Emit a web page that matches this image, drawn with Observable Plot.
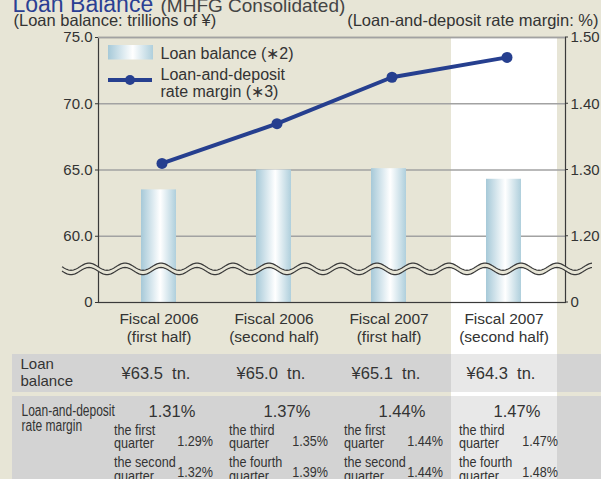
<!DOCTYPE html>
<html><head><meta charset="utf-8">
<script src="https://cdn.jsdelivr.net/npm/d3@7"></script>
<script src="https://cdn.jsdelivr.net/npm/@observablehq/plot@0.6"></script>
<style>
html,body{margin:0;padding:0;background:#e7e5d6;}
#wrap{position:relative;width:601px;height:479px;overflow:hidden;background:#e7e5d6;}
#wrap > div{position:absolute;}
#wrap svg{position:absolute;left:0;top:0;}
</style></head><body><div id="wrap"></div>
<script>
// ---- data ----
const categories = ["Fiscal 2006\n(first half)", "Fiscal 2006\n(second half)", "Fiscal 2007\n(first half)", "Fiscal 2007\n(second half)"];
const loanBalance = [63.5, 65.0, 65.1, 64.3];
const rateMargin = [1.31, 1.37, 1.44, 1.47];
const leftTicks = [0, 60, 65, 70, 75];
const leftTickLabels = ["0", "60.0", "65.0", "70.0", "75.0"];
const rightTicks = [0, 1.20, 1.30, 1.40, 1.50];
const rightTickLabels = ["0", "1.20", "1.30", "1.40", "1.50"];
const balanceLabels = ["¥63.5  tn.", "¥65.0  tn.", "¥65.1  tn.", "¥64.3  tn."];
const marginLabels = ["1.31%", "1.37%", "1.44%", "1.47%"];
const quarterNamesA = ["the first", "the third", "the first", "the third"];
const quarterNamesB = ["the second", "the fourth", "the second", "the fourth"];
const quarterValuesA = ["1.29%", "1.35%", "1.44%", "1.47%"];
const quarterValuesB = ["1.32%", "1.39%", "1.44%", "1.48%"];
const highlighted = categories[3];
const titleText = "Loan Balance";
const subtitleText = "(MHFG Consolidated)";
const leftUnit = "(Loan balance: trillions of ¥)";
const rightUnit = "(Loan-and-deposit rate margin: %)";
const legendBar = "Loan balance (\u22172)";
const legendLine = "Loan-and-deposit\nrate margin (\u22173)";
const rowLabel1 = "Loan\nbalance";
const rowLabel2 = "Loan-and-deposit\nrate margin";

// ---- styles ----
const FONT = '"Liberation Sans", Arial, Helvetica, sans-serif';
const INK = "#333333";
const BLUE = "#263f8f";
const GRID = "#a2a2a2";

// broken axis: 0–60 takes one unit of height, every 5 above 60 takes one unit
const brk = v => v <= 60 ? v / 60 : 1 + (v - 60) / 5;
// right axis (%) expressed in left-axis units: 1.20 ↔ 60, 1.50 ↔ 75
const toLeft = m => m === 0 ? 0 : 60 + (m - 1.2) * 50;
const leftTickPos = leftTicks.map(brk);

const rows = categories.map((cat, i) => ({
  cat, balance: loanBalance[i], margin: rateMargin[i],
  balanceLabel: balanceLabels[i], marginLabel: marginLabels[i],
  qa: quarterNamesA[i] + "\nquarter", qb: quarterNamesB[i] + "\nquarter",
  va: quarterValuesA[i], vb: quarterValuesB[i]
}));

const plot = Plot.plot({
  width: 601, height: 479,
  marginTop: 37, marginRight: 36, marginBottom: 177, marginLeft: 98,
  style: {background: "transparent", fontFamily: FONT, fontSize: "15px", color: INK, overflow: "hidden"},
  x: {type: "band", domain: categories, range: [99, 562], padding: 0, axis: null},
  y: {domain: [0, brk(75)], ticks: leftTickPos,
      tickFormat: d => leftTickLabels[leftTickPos.indexOf(d)], tickSize: 3, tickPadding: 3, label: null},
  marks: [
    Plot.ruleY([60, 65, 70].map(brk), {stroke: GRID, strokeWidth: 1.6}),
    Plot.barY(rows, {x: "cat", y1: 0, y2: d => brk(d.balance), fill: "url(#barGrad)", insetLeft: 40, insetRight: 40}),
    Plot.frame({stroke: "#3a3a3a", strokeWidth: 1.2}),
    Plot.ruleY([brk(75)], {stroke: GRID, strokeWidth: 1.6}),
    Plot.line(rows, {x: "cat", y: d => brk(toLeft(d.margin)), stroke: BLUE, strokeWidth: 4, dx: 3}),
    Plot.dot(rows, {x: "cat", y: d => brk(toLeft(d.margin)), r: 5.5, fill: BLUE, dx: 3}),
    // right axis labels
    Plot.text(rightTicks, {y: d => brk(toLeft(d)), text: (d, i) => rightTickLabels[i], frameAnchor: "right", textAnchor: "start", dx: 5, fill: INK, fontSize: 15}),
    // x labels
    Plot.text(rows, {x: "cat", text: "cat", frameAnchor: "bottom", lineAnchor: "bottom", dy: 39, lineHeight: 1.1, fontSize: 15.5, fill: INK}),
    // top texts
    Plot.text([titleText], {text: d => d, frameAnchor: "top-left", textAnchor: "start", lineAnchor: "bottom", dx: -86, dy: -26, fontSize: 23, fill: "#2b3f93"}),
    Plot.text([subtitleText], {text: d => d, frameAnchor: "top-left", textAnchor: "start", lineAnchor: "bottom", dx: 62, dy: -26, fontSize: 19, fill: "#444"}),
    Plot.text([leftUnit], {text: d => d, frameAnchor: "top-left", textAnchor: "start", lineAnchor: "bottom", dx: -85, dy: -11.5, fontSize: 16.5, fill: INK}),
    Plot.text([rightUnit], {text: d => d, frameAnchor: "top-right", textAnchor: "end", lineAnchor: "bottom", dx: 33, dy: -11.5, fontSize: 16.5, fill: INK}),
    // legend texts
    Plot.text([legendBar], {text: d => d, frameAnchor: "top-left", textAnchor: "start", lineAnchor: "bottom", dx: 62, dy: 21, fontSize: 16, fill: INK}),
    Plot.text([legendLine], {text: d => d, frameAnchor: "top-left", textAnchor: "start", lineAnchor: "bottom", dx: 62, dy: 59, lineHeight: 1.05, fontSize: 16, fill: INK}),
    // table
    Plot.text([rowLabel1], {text: d => d, frameAnchor: "bottom-left", textAnchor: "start", lineAnchor: "bottom", dx: -78, dy: 83, lineHeight: 1.11, fontSize: 15, fill: INK}),
    Plot.text(rows, {x: "cat", text: "balanceLabel", frameAnchor: "bottom", lineAnchor: "bottom", dx: -3, dy: 76, fontSize: 16.5, fill: INK}),
    Plot.text([rowLabel2], {text: d => d, frameAnchor: "bottom-left", textAnchor: "start", lineAnchor: "bottom", dx: -77, dy: 128, lineHeight: 0.92, fontSize: 16, fill: INK, ariaDescription: "narrow 0.75"}),
    Plot.text(rows, {x: "cat", text: "marginLabel", frameAnchor: "bottom", lineAnchor: "bottom", dx: 13, dy: 114, fontSize: 16.5, fill: INK}),
    Plot.text(rows, {x: "cat", text: "qa", frameAnchor: "bottom", textAnchor: "start", lineAnchor: "bottom", dx: -45, dy: 145.7, lineHeight: 0.93, fontSize: 14.5, fill: INK, ariaDescription: "narrow 0.87"}),
    Plot.text(rows, {x: "cat", text: "va", frameAnchor: "bottom", textAnchor: "end", lineAnchor: "bottom", dx: 54, dy: 143.3, fontSize: 14, fill: INK, ariaDescription: "narrow 0.9"}),
    Plot.text(rows, {x: "cat", text: "qb", frameAnchor: "bottom", textAnchor: "start", lineAnchor: "bottom", dx: -45, dy: 178, lineHeight: 0.93, fontSize: 14.5, fill: INK, ariaDescription: "narrow 0.87"}),
    Plot.text(rows, {x: "cat", text: "vb", frameAnchor: "bottom", textAnchor: "end", lineAnchor: "bottom", dx: 54, dy: 174, fontSize: 14, fill: INK, ariaDescription: "narrow 0.9"})
  ]
});

// ---- scales ----
const xd = plot.scale("x"), yd = plot.scale("y");
const xs = xd.apply ? (v => xd.apply(v)) : d3.scaleBand(xd.domain, xd.range).padding(0);
const ys = yd.apply ? (v => yd.apply(v)) : d3.scaleLinear(yd.domain, yd.range);
const bw = xd.bandwidth;
const frameR = 601 - 36;

// ---- condensed text (compress horizontally about each text's anchor) ----
plot.querySelectorAll('g[aria-description^="narrow"]').forEach(g => {
  const f = +g.getAttribute("aria-description").split(" ")[1];
  g.querySelectorAll("text").forEach(t => {
    const tr = t.getAttribute("transform") || "";
    const x = parseFloat(t.getAttribute("x")) || 0;
    t.setAttribute("transform", `${tr} translate(${x},0) scale(${f},1) translate(${-x},0)`);
  });
});

// ---- html backgrounds (behind svg) ----
const wrap = document.getElementById("wrap");
function box(l, t, w, h, bg) {
  const d = document.createElement("div");
  Object.assign(d.style, {left: l + "px", top: t + "px", width: w + "px", height: h + "px", background: bg});
  wrap.appendChild(d);
}
const hlInset = 4.5;
const hlL = xs(highlighted) + hlInset, hlW = bw - 2 * hlInset;
box(hlL, ys(brk(75)), hlW, 479 - ys(brk(75)), "#ffffff");
box(12, 354, 589, 38, "#d3d3d3");
box(12, 396, 589, 83, "#d3d3d3");
box(hlL, 354, hlW, 38, "#e8e8e8");
box(hlL, 396, hlW, 83, "#e8e8e8");
wrap.appendChild(plot);

// ---- svg decorations: gradient, legend swatches, break wave, right ticks ----
const ns = "http://www.w3.org/2000/svg";
function el(name, attrs, parent) {
  const e = document.createElementNS(ns, name);
  for (const k in attrs) e.setAttribute(k, attrs[k]);
  (parent || plot).appendChild(e);
  return e;
}
const defs = el("defs", {});
plot.insertBefore(defs, plot.firstChild);
const grad = el("linearGradient", {id: "barGrad", x1: "0", x2: "1", y1: "0", y2: "0"}, defs);
el("stop", {offset: "0", "stop-color": "#a6c9d8"}, grad);
el("stop", {offset: "0.55", "stop-color": "#ffffff"}, grad);
el("stop", {offset: "1", "stop-color": "#afcfdc"}, grad);

// legend swatches
el("rect", {x: 108, y: 45, width: 45, height: 14.5, fill: "url(#barGrad)"});
el("line", {x1: 108, x2: 152, y1: 80, y2: 80, stroke: BLUE, "stroke-width": 4});
el("circle", {cx: 130, cy: 80, r: 5, fill: BLUE});

// right axis ticks
for (const t of rightTicks) {
  const yy = ys(brk(toLeft(t)));
  el("line", {x1: frameR, x2: frameR + 3, y1: yy, y2: yy, stroke: "#3a3a3a", "stroke-width": 1});
}

// axis break wave
const waveY = ys(brk(30)), amp = 3.6, per = 36, gap = 2.2, wx0 = 62, wx1 = 592;
const upper = [], lower = [];
for (let x = wx0; x <= wx1; x += 1) {
  const s = amp * Math.sin(2 * Math.PI * (x - wx0) / per);
  upper.push([x, waveY - gap + s]);
  lower.push([x, waveY + gap + s]);
}
const pstr = pts => pts.map((p, i) => (i ? "L" : "M") + p[0].toFixed(1) + "," + p[1].toFixed(2)).join("");
el("path", {d: pstr(upper) + pstr(lower.slice().reverse()).replace(/^M/, "L") + "Z", fill: "#e7e5d6", stroke: "none"});
el("path", {d: pstr(upper), fill: "none", stroke: "#3a3a3a", "stroke-width": 1.2});
el("path", {d: pstr(lower), fill: "none", stroke: "#3a3a3a", "stroke-width": 1.2});
</script></body></html>
